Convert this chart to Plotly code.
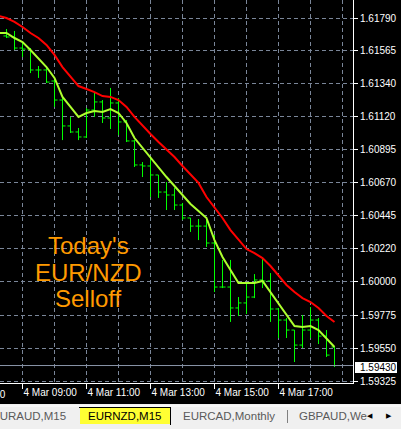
import plotly.graph_objects as go
import pandas as pd

# EURNZD M15 bars, 4 Mar 2014 08:30 .. 18:45
bar_times = pd.date_range("2014-03-04 08:30", periods=42, freq="15min")
opens = [1.61668, 1.61661, 1.61586, 1.61579, 1.61437, 1.61437, 1.61362, 1.61233, 1.61057, 1.61016,
         1.60982, 1.61165, 1.61220, 1.61111, 1.61213, 1.61084, 1.60955, 1.60792, 1.60785, 1.60724,
         1.60608, 1.60588, 1.60520, 1.60432, 1.60377, 1.60377, 1.60262, 1.59963, 1.59963, 1.59821,
         1.59855, 1.59895, 1.60011, 1.60004, 1.59814, 1.59739, 1.59671, 1.59569, 1.59671, 1.59739,
         1.59630, 1.59556]
highs = [1.61715, 1.61702, 1.61620, 1.61586, 1.61464, 1.61450, 1.61383, 1.61247, 1.61118, 1.61043,
         1.61179, 1.61281, 1.61233, 1.61315, 1.61247, 1.61097, 1.60961, 1.60812, 1.60839, 1.60724,
         1.60676, 1.60636, 1.60534, 1.60432, 1.60425, 1.60432, 1.60316, 1.60147, 1.60147, 1.59895,
         1.59984, 1.60051, 1.60153, 1.60058, 1.59821, 1.59753, 1.59671, 1.59773, 1.59827, 1.59753,
         1.59671, 1.59556]
lows = [1.61654, 1.61573, 1.61525, 1.61416, 1.61383, 1.61349, 1.61186, 1.60961, 1.61009, 1.60961,
        1.60975, 1.61118, 1.61077, 1.61036, 1.60995, 1.60948, 1.60778, 1.60710, 1.60574, 1.60568,
        1.60486, 1.60486, 1.60418, 1.60337, 1.60282, 1.60235, 1.59929, 1.59956, 1.59726, 1.59766,
        1.59780, 1.59888, 1.59956, 1.59726, 1.59617, 1.59617, 1.59454, 1.59549, 1.59617, 1.59576,
        1.59488, 1.59420]
closes = [1.61661, 1.61586, 1.61579, 1.61437, 1.61437, 1.61355, 1.61233, 1.61057, 1.61016, 1.60982,
          1.61165, 1.61220, 1.61111, 1.61213, 1.61084, 1.60955, 1.60792, 1.60785, 1.60724, 1.60608,
          1.60588, 1.60520, 1.60432, 1.60377, 1.60377, 1.60262, 1.59963, 1.59963, 1.59821, 1.59855,
          1.59895, 1.60011, 1.60004, 1.59814, 1.59739, 1.59671, 1.59569, 1.59671, 1.59739, 1.59630,
          1.59501, 1.59430]

# moving averages (one extra bar on the left so the lines reach the edge)
ma_times = pd.date_range("2014-03-04 08:15", periods=43, freq="15min")
ma_slow = [1.61804, 1.61790, 1.61763, 1.61729, 1.61688, 1.61654, 1.61607, 1.61539, 1.61457, 1.61389,
           1.61328, 1.61308, 1.61287, 1.61260, 1.61254, 1.61233, 1.61186, 1.61118, 1.61057, 1.61002,
           1.60948, 1.60900, 1.60846, 1.60785, 1.60724, 1.60670, 1.60574, 1.60507, 1.60432, 1.60350,
           1.60282, 1.60221, 1.60194, 1.60160, 1.60106, 1.60045, 1.59977, 1.59929, 1.59888, 1.59861,
           1.59821, 1.59766, 1.59726]
ma_fast = [1.61688, 1.61688, 1.61654, 1.61627, 1.61573, 1.61518, 1.61457, 1.61383, 1.61254, 1.61186,
           1.61118, 1.61145, 1.61159, 1.61152, 1.61172, 1.61145, 1.61077, 1.60975, 1.60907, 1.60839,
           1.60778, 1.60710, 1.60649, 1.60588, 1.60527, 1.60479, 1.60432, 1.60282, 1.60167, 1.60079,
           1.59990, 1.59990, 1.59990, 1.60004, 1.59929, 1.59855, 1.59773, 1.59698, 1.59692, 1.59698,
           1.59671, 1.59617, 1.59556]

# time labels shown under the chart
time_ticks = ['2014-03-04 09:00', '2014-03-04 11:00', '2014-03-04 13:00',
              '2014-03-04 15:00', '2014-03-04 17:00']

# price scale as MT4 prints it
price_tickvals = [1.61790, 1.61566, 1.61342, 1.61118, 1.60894, 1.60670,
                  1.60446, 1.60222, 1.59998, 1.59773, 1.59549, 1.59325]
price_ticktext = ['1.61790', '1.61565', '1.61340', '1.61120', '1.60895', '1.60670',
                  '1.60445', '1.60220', '1.60000', '1.59775', '1.59550', '1.59325']
last_price = 1.59430

tabs = ['EURAUD,M15', 'EURNZD,M15', 'EURCAD,Monthly', 'GBPAUD,We']

grid_col = '#7a8699'
label_font = dict(family='Liberation Sans, Arial', size=10, color='white')
tab_font = dict(family='Liberation Sans, Arial', size=11.5, color='#5a5a5a')
big_font = dict(family='Liberation Sans, Arial', size=24, color='#ff9a00')

W, H = 401, 429
PL, PR, PT, PB = 0, 353, 0, 383  # plot area in pixels


def px(x):
    return (x - PL) / (PR - PL)


def py(y):
    return (PB - y) / (PB - PT)


def note(text, x, y, font, xanchor='center'):
    return dict(text=text, x=px(x), y=py(y), xref='paper', yref='paper', showarrow=False,
                xanchor=xanchor, yanchor='middle', font=font)


fig = go.Figure()

fig.add_trace(go.Ohlc(
    x=bar_times, open=opens, high=highs, low=lows, close=closes,
    increasing=dict(line=dict(color='#00ff00', width=1)),
    decreasing=dict(line=dict(color='#00ff00', width=1)),
    tickwidth=0.38, hoverinfo='skip'
))
fig.add_trace(go.Scatter(x=ma_times, y=ma_slow, mode='lines',
                         line=dict(color='#ff0000', width=2), hoverinfo='skip'))
fig.add_trace(go.Scatter(x=ma_times, y=ma_fast, mode='lines',
                         line=dict(color='#adff2f', width=2), hoverinfo='skip'))

shapes = [
    # bid line
    dict(type='line', xref='paper', yref='y', x0=0, x1=1, y0=last_price, y1=last_price,
         line=dict(color='#8a95a8', width=1)),
    # tab bar
    dict(type='rect', xref='paper', yref='paper', x0=-0.01, x1=px(W + 2), y0=py(404), y1=py(H + 5),
         fillcolor='#f0f0f0', line=dict(width=0)),
    dict(type='line', xref='paper', yref='paper', x0=-0.01, x1=px(W + 2), y0=py(406), y1=py(406),
         line=dict(color='#ffffff', width=1)),
    dict(type='rect', xref='paper', yref='paper', x0=px(80), x1=px(170), y0=py(408), y1=py(424),
         fillcolor='#ffff33', line=dict(width=0)),
    dict(type='line', xref='paper', yref='paper', x0=px(79), x1=px(171), y0=py(407.5), y1=py(407.5),
         line=dict(color='#000000', width=1)),
    dict(type='line', xref='paper', yref='paper', x0=px(170.5), x1=px(170.5), y0=py(407), y1=py(425),
         line=dict(color='#000000', width=1)),
    dict(type='line', xref='paper', yref='paper', x0=px(287.5), x1=px(287.5), y0=py(410), y1=py(423),
         line=dict(color='#808080', width=1)),
    # last price box
    dict(type='rect', xref='paper', yref='paper', x0=px(355), x1=px(397), y0=py(373), y1=py(362),
         fillcolor='#ffffff', line=dict(width=0)),
]

annotations = [
    note("Today's", 88, 245, big_font),
    note('EUR/NZD', 88, 272, big_font),
    note('Selloff', 88, 298, big_font),
    note('1.59430', 358, 367.5, dict(label_font, color='#000000'), 'left'),
    note('4 Mar 07:00', 8, 394, label_font, 'right'),
    note(tabs[0], 68, 416, tab_font, 'right'),
    note(tabs[1], 125, 416, dict(tab_font, color='#000000')),
    note(tabs[2], 181, 416, tab_font, 'left'),
    note(tabs[3], 297, 416, tab_font, 'left'),
    note('◀', 370, 416, dict(family='DejaVu Sans', size=7, color='#000000')),
    note('▶', 389, 416, dict(family='DejaVu Sans', size=7, color='#000000')),
]

fig.update_layout(
    width=W, height=H,
    margin=dict(l=PL, r=W - PR, t=PT, b=H - PB),
    paper_bgcolor='#000000',
    plot_bgcolor='#000000',
    showlegend=False,
    shapes=shapes,
    annotations=annotations,
    xaxis=dict(
        type='date',
        # 32 px per hour, bars land on pixel centres
        range=['2014-03-04 08:17:48.75', '2014-03-04 19:19:41.25'],
        rangeslider=dict(visible=False),
        tickmode='array', tickvals=time_ticks,
        tickformat='%-d %b %H:%M',
        tickangle=0,
        ticklabelposition='outside right',
        ticks='outside', ticklen=5, tickcolor='#ffffff',
        tickfont=label_font,
        showgrid=False,
        minor=dict(dtick=3600000, tick0='2014-03-04 09:00', showgrid=True,
                   gridcolor=grid_col, griddash='4px,3px', gridwidth=1, ticks=''),
        showline=True, linecolor='#ffffff', linewidth=1,
        zeroline=False, fixedrange=True,
    ),
    yaxis=dict(
        side='right',
        range=[1.593114, 1.619122],
        tickvals=price_tickvals, ticktext=price_ticktext,
        ticks='outside', ticklen=4, tickcolor='#ffffff',
        tickfont=label_font,
        showgrid=True, gridcolor=grid_col, griddash='4px,3px', gridwidth=1,
        showline=True, linecolor='#ffffff', linewidth=1,
        zeroline=False, fixedrange=True,
    ),
)

fig.write_html("out.html", config={'displayModeBar': False},
               post_script="document.body.style.margin='0';")
